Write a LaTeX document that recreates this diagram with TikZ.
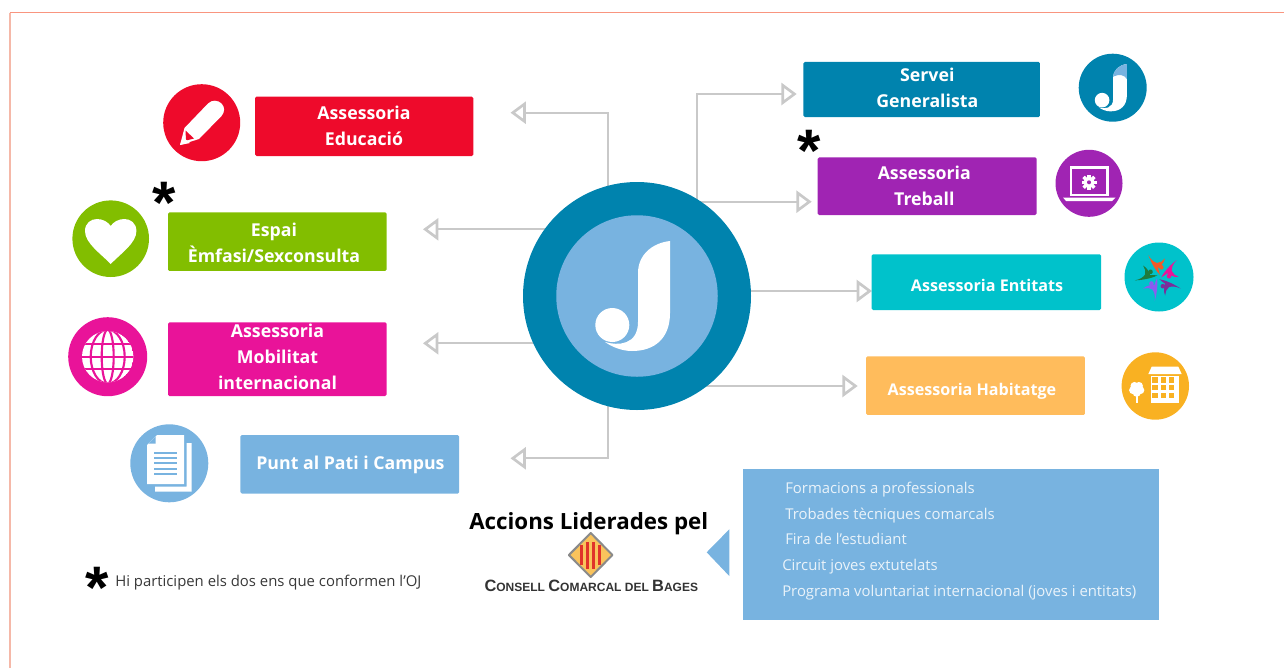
\documentclass[tikz,border=0pt]{standalone}
\usepackage{fontspec}
\setmainfont{Open Sans}
\newfontfamily\boxfont{Liberation Sans}
\usetikzlibrary{arrows.meta,backgrounds}
\definecolor{cRed}{HTML}{EE0A2B}
\definecolor{cGreen}{HTML}{82BE00}
\definecolor{cPink}{HTML}{E91399}
\definecolor{cSky}{HTML}{78B3E0}
\definecolor{cTeal}{HTML}{0083AE}
\definecolor{cPurple}{HTML}{A024B3}
\definecolor{cCyan}{HTML}{00C2CB}
\definecolor{cPeach}{HTML}{FFBC5C}
\definecolor{cAmber}{HTML}{F9B122}
\definecolor{cLine}{HTML}{C9C9C9}
\definecolor{cFrameA}{HTML}{F9957F}
\definecolor{cFrameB}{HTML}{F5B8A8}
\definecolor{cListText}{HTML}{EAF3FA}
\definecolor{cFigA}{HTML}{F05A28}
\definecolor{cFigB}{HTML}{7B2D9B}
\definecolor{cFigC}{HTML}{8A5CF0}
\definecolor{cFigD}{HTML}{1E7B3C}
\definecolor{cEmbBorder}{HTML}{8A8A8A}
\definecolor{cEmbFill}{HTML}{F9C35C}
\definecolor{cEmbStripe}{HTML}{E0332A}
\tikzset{
  boxst/.style={rectangle,rounded corners=1.1pt,inner sep=0pt,draw=none},
  disc/.style={circle,inner sep=0pt,minimum size=#1*0.75pt,draw=none},
  boxtxt/.style={text=white,align=center,inner sep=0pt,font=\bfseries\fontsize{13.3}{19.5}\selectfont},
  boxtxtsm/.style={text=white,align=center,inner sep=0pt,font=\bfseries\fontsize{12.1}{19.5}\selectfont},
  listtxt/.style={anchor=base west,inner sep=0pt,text=cListText,font=\fontsize{11.16}{14}\selectfont},
  conn/.style={draw=cLine,line width=1.5pt,line join=miter,-{Triangle[open,length=11.5pt,width=16.5pt,line width=2pt]}},
  starmark/.style={anchor=base,inner sep=0pt,text=black,font=\boxfont\bfseries\fontsize{45}{45}\selectfont},
  jmark/.pic={
    \fill[white] (33,-55) -- (33,17) .. controls (33,42) and (18,55) .. (-5,55)
       .. controls (-15,55) and (-25,51) .. (-32,46)
       .. controls (-19,50) and (1,49) .. (1,26) -- (1,-23)
       .. controls (1,-41) and (15,-53) .. (33,-55) -- cycle;
    \fill[white] (-24.7,29) circle[radius=17];
  },
  fig/.pic={
    \fill[pic actions] (-10.7,-22) .. controls (-8,-17) and (-5,-15) .. (-2,-14)
       .. controls (1,-14) and (4,-16) .. (6,-18.7)
       .. controls (5,-14) and (1,-10) .. (-1,-9)
       .. controls (0,-7) and (0.5,-4) .. (1,-2)
       .. controls (-2,-5) and (-7,-12) .. (-10.7,-22) -- cycle;
    \fill[pic actions] (2.3,-9.7) circle[radius=2.3];
  }
}
\begin{document}
\begin{tikzpicture}[x=0.75pt,y=-0.75pt]
\useasboundingbox (0,0) rectangle (1284,668);
% frame
\draw[cFrameB,line width=1.5pt] (10,668) -- (10,12.5);
\draw[cFrameA,line width=0.9pt] (9.5,12.5) -- (1284,12.5);

% hub
\node[disc=228,fill=cTeal] (hub) at (637,296) {};
\node[disc=161.5,fill=cSky] (hubin) at (637,296) {};
\pic at (hubin.center) {jmark};

% free ends of the connectors
\coordinate (tA) at (510.5,112.7);
\coordinate (eA) at (607.7,112.7);
\coordinate (tE) at (423,229.3);
\coordinate (tM) at (423,343.3);
\coordinate (tP) at (510.5,458.3);
\coordinate (eP) at (607.7,458.3);
\coordinate (tS) at (796.7,94);
\coordinate (eS) at (697.4,94);
\coordinate (tT) at (811.7,201.7);
\coordinate (eT) at (696.1,201.7);
\coordinate (tN) at (872,291);
\coordinate (tH) at (857.7,386);

\begin{scope}[on background layer]
\draw[conn] (eA |- hub.center) -- (eA) -- (tA);
\draw[conn] (hub.center |- tE) -- (tE);
\draw[conn] (hub.center |- tM) -- (tM);
\draw[conn] (eP |- hub.center) -- (eP) -- (tP);
\draw[conn] (eS |- hub.center) -- (eS) -- (tS);
\draw[conn] (eT |- hub.center) -- (eT) -- (tT);
\draw[conn] (hub.center |- tN) -- (tN);
\draw[conn] (hub.center |- tH) -- (tH);
\end{scope}

% boxes
\node[boxst,fill=cRed,minimum width=163.7pt,minimum height=44.5pt] (bA) at (364.2,126.35) {};
\node[boxst,fill=cGreen,minimum width=164pt,minimum height=44pt] (bE) at (277.35,241.65) {};
\node[boxst,fill=cPink,minimum width=164pt,minimum height=55.3pt] (bM) at (277.35,359.15) {};
\node[boxst,fill=cSky,minimum width=163.9pt,minimum height=44pt] (bP) at (349.75,464.35) {};
\node[boxst,fill=cTeal,minimum width=177.5pt,minimum height=41.3pt] (bS) at (921.65,89.5) {};
\node[boxst,fill=cPurple,minimum width=164.2pt,minimum height=43.3pt] (bT) at (927.2,186.15) {};
\node[boxst,fill=cCyan,minimum width=172pt,minimum height=41.8pt] (bN) at (986.35,282.15) {};
\node[boxst,fill=cPeach,minimum width=164.2pt,minimum height=44pt] (bH) at (975.5,385.65) {};
\node[rectangle,inner sep=0pt,fill=cSky,minimum width=311.5pt,minimum height=113.5pt] (bL) at (951,544.35) {};

% box labels
\node[boxtxt] (xA) at (364,126.3) {Assessoria\\Educació};
\node[boxtxt] (xE) at (274,243) {Espai\\Èmfasi/Sexconsulta};
\node[boxtxt] (xM) at (277.5,357) {Assessoria\\Mobilitat\\internacional};
\node[boxtxt] (xP) at (350.4,465) {Punt al Pati i Campus};
\node[boxtxt] (xS) at (927.3,88) {Servei\\Generalista};
\node[boxtxt] (xT) at (924.3,186) {Assessoria\\Treball};
\node[boxtxtsm] (xN) at (987,285) {Assessoria Entitats};
\node[boxtxtsm] (xH) at (972,391) {Assessoria Habitatge};

% icon discs
\node[disc=77,fill=cRed] (iA) at (201.7,122.7) {};
\node[disc=76.6,fill=cGreen] (iE) at (110.7,238.7) {};
\node[disc=79,fill=cPink] (iM) at (107.7,356.7) {};
\node[disc=78,fill=cSky] (iP) at (169.3,463.3) {};
\node[disc=68,fill=cTeal] (iS) at (1112.7,87.7) {};
\node[disc=67,fill=cPurple] (iT) at (1089,183.3) {};
\node[disc=69,fill=cCyan] (iN) at (1159,277) {};
\node[disc=67.4,fill=cAmber] (iH) at (1155.3,386) {};

% pencil
\fill[white] (180,145) -- (184.5,128) -- (208,103.5)
   .. controls (212,99.5) and (218,100) .. (221.5,103.5)
   .. controls (225,107) and (225,112) .. (221.5,116)
   -- (199,139) -- cycle;
\fill[cRed] (185.5,130.5) -- (194,138.5) -- (186,140.5) -- cycle;
\fill[white] (180,145) -- (183,137) -- (190,143) -- cycle;

% heart
\fill[white] (110.7,264) .. controls (100,253) and (85,243) .. (85,231)
   .. controls (85,223) and (91,219) .. (97,219)
   .. controls (103,219) and (108,222) .. (110.7,226)
   .. controls (113.4,222) and (118.4,219) .. (124.4,219)
   .. controls (130.4,219) and (136.4,223) .. (136.4,231)
   .. controls (136.4,243) and (121.4,253) .. (110.7,264) -- cycle;

% globe
\begin{scope}
\clip (iM.center) circle[radius=25.7];
\fill[white] (iM.center) circle[radius=25.7];
\begin{scope}[shift={(iM.center)},draw=cPink,line width=1.6pt]
\draw (0,0) ellipse[x radius=6,y radius=27];
\draw (0,0) ellipse[x radius=17,y radius=27];
\draw (-27,-12.5) -- (27,-12.5);
\draw (-27,0) -- (27,0);
\draw (-27,12.5) -- (27,12.5);
\end{scope}
\end{scope}

% documents
\fill[white] (186.5,443) -- (191.7,443) -- (191.7,491.7) -- (155,491.7) -- (155,486.7) -- (186.5,486.7) -- cycle;
\fill[white] (147,445) -- (157,435) -- (184,435) -- (184,484) -- (147,484) -- cycle;
\fill[cSky] (148.5,443.5) -- (155.5,443.5) -- (155.5,436.5) -- cycle;
\foreach \yy in {452.7,458.3,463.3,469,474.3}
  \fill[cSky] (154,\yy-1) rectangle (177.3,\yy+1);

% small J
\pic[scale=0.43] at (iS.center) {jmark};
\fill[cSky,shift={(iS.center)},scale=0.43] (33,-55) -- (33,-20) .. controls (28,-30) and (15,-32) .. (1,-26)
   .. controls (2,-41) and (15,-53) .. (33,-55) -- cycle;

% laptop
\draw[white,line width=2.2pt] (1071,167.5) rectangle (1107.5,195);
\fill[white] (1063,197.5) -- (1115.5,197.5) -- (1112,201) -- (1066,201) -- cycle;
\foreach \aa in {0,45,...,315}
  \fill[white,rotate around={\aa:(1089,182.3)}] (1087.4,174.8) rectangle (1090.6,189.8);
\fill[white] (1089,182.3) circle[radius=5.6];
\fill[cPurple] (1089,182.3) circle[radius=2];

% people
\pic[fill=cFigA] at (iN.center) {fig};
\pic[fill=cPink,rotate=-72] at (iN.center) {fig};
\pic[fill=cFigB,rotate=-144] at (iN.center) {fig};
\pic[fill=cFigC,rotate=-216] at (iN.center) {fig};
\pic[fill=cFigD,rotate=-288] at (iN.center) {fig};

% building and tree
\fill[white] (1151.7,366.7) -- (1178.3,366.7) -- (1181.7,374) -- (1148.3,374) -- cycle;
\fill[white] (1150.7,375.7) rectangle (1178.7,403.3);
\foreach \xx in {1155,1163.3,1171.7}
  \foreach \yy in {380,387.7,395.7}
    \fill[cAmber] (\xx-2.7,\yy-2.7) rectangle (\xx+2.7,\yy+2.7);
\fill[white] (1136,393) rectangle (1137.7,403);
\foreach \aa in {0,72,...,288}
  \fill[white] (1136.7,389) ++(\aa+90:3.8) circle[radius=4];

% asterisks
\node[starmark] (s1) at (164.5,223.7) {*};
\node[starmark] (s2) at (809.5,171.7) {*};
\node[starmark] (s3) at (97,608.3) {*};

% note
\node[anchor=base west,inner sep=0pt,text=black!78,font=\fontsize{11.17}{14}\selectfont] (note) at (115,586) {Hi participen els dos ens que conformen l’OJ};

% list
\node[listtxt] (l1) at (785,493.3) {Formacions a professionals};
\node[listtxt] (l2) at (785,519) {Trobades tècniques comarcals};
\node[listtxt] (l3) at (785,544.7) {Fira de l'estudiant};
\node[listtxt] (l4) at (782,570.3) {Circuit joves extutelats};
\node[listtxt] (l5) at (782,596.7) {Programa voluntariat internacional (joves i entitats)};

% pointer
\fill[cSky] (729.3,529.3) -- (706.7,552.3) -- (729.3,576) -- cycle;

% leader
\node[anchor=base west,inner sep=0pt,text=black,font=\bfseries\fontsize{16.75}{20}\selectfont] (acc) at (469,529.3) {Accions Liderades pel};

% emblem
\fill[cEmbFill,draw=cEmbBorder,line width=1.5pt,line join=round] (590.7,533) -- (612.5,555) -- (590.7,577) -- (568.9,555) -- cycle;
\foreach \xx/\hh in {-9/10,-3/13.5,3/13.5,9/10}
  \fill[cEmbStripe] (590.7+\xx-1.7,555-\hh) rectangle (590.7+\xx+1.7,555+\hh);

% council name
\node[anchor=base,inner sep=0pt,text=black!80,font=\boxfont\bfseries] (cc) at (591.3,591.7)
  {\fontsize{12.3}{12}\selectfont C\fontsize{9}{12}\selectfont ONSELL \fontsize{12.3}{12}\selectfont C\fontsize{9}{12}\selectfont OMARCAL DEL \fontsize{12.3}{12}\selectfont B\fontsize{9}{12}\selectfont AGES};
\end{tikzpicture}
\end{document}
